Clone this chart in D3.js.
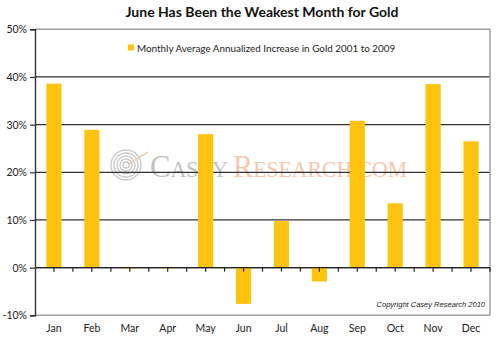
<!DOCTYPE html>
<html><head><meta charset="utf-8">
<script src="https://cdn.jsdelivr.net/npm/d3@7"></script>
<style>body{margin:0;background:#fff}svg{display:block}</style>
</head><body>
<script>
const months = ["Jan","Feb","Mar","Apr","May","Jun","Jul","Aug","Sep","Oct","Nov","Dec"];
const values = [38.6, 28.9, -0.2, -0.1, 28.0, -7.6, 9.8, -2.9, 30.8, 13.5, 38.5, 26.5];
const yTicks = [-10, 0, 10, 20, 30, 40, 50];
const title = "June Has Been the Weakest Month for Gold";
const seriesName = "Monthly Average Annualized Increase in Gold 2001 to 2009";

const W = 500, H = 338;
const m = {l:35, r:10, t:29.3, b:22.7};
const FONT = "Lato, 'Open Sans', sans-serif";
const svg = d3.select("body").append("svg").attr("width", W).attr("height", H);

const x = d3.scaleBand().domain(months).range([m.l, W - m.r]).paddingInner(0.6).paddingOuter(0.3);
const xb = d3.scaleBand().domain(months).range([m.l, W - m.r]);
const y = d3.scaleLinear().domain([-10, 50]).range([H - m.b, m.t]);

// watermark
const wm = svg.append("g").attr("opacity", 0.5);
[3, 6, 9, 12, 15].forEach(r => wm.append("circle").attr("cx", 126).attr("cy", 165).attr("r", r)
  .attr("fill", "none").attr("stroke", "#999").attr("stroke-width", 1.4));
wm.append("line").attr("x1", 129).attr("y1", 164).attr("x2", 148).attr("y2", 152).attr("stroke", "#f0a070").attr("stroke-width", 1.6);
const w1 = wm.append("text").attr("x", 150).attr("y", 177).attr("font-family", "Liberation Serif, serif").attr("font-size", 32)
  .attr("fill", "#888").attr("textLength", 78).attr("lengthAdjust", "spacingAndGlyphs");
w1.append("tspan").text("C");
w1.append("tspan").attr("font-size", 23).text("ASEY");
const w2 = wm.append("text").attr("x", 233).attr("y", 177).attr("font-family", "Liberation Serif, serif").attr("font-size", 32)
  .attr("fill", "#f29060").attr("textLength", 174).attr("lengthAdjust", "spacingAndGlyphs");
w2.append("tspan").text("R");
w2.append("tspan").attr("font-size", 23).text("ESEARCH.COM");

// gridlines
svg.append("g").selectAll("line").data(yTicks).join("line")
  .attr("x1", m.l).attr("x2", W - m.r)
  .attr("y1", d => y(d)).attr("y2", d => y(d))
  .attr("stroke", d => (d === 50 || d === -10) ? "#a0a0a0" : "#333")
  .attr("stroke-width", d => (d === 50 || d === -10) ? 1.5 : 1.3);
// right border
svg.append("line").attr("x1", W - m.r).attr("x2", W - m.r).attr("y1", y(50)).attr("y2", y(-10))
  .attr("stroke", "#a0a0a0").attr("stroke-width", 1.5);

// bars
svg.append("g").selectAll("rect").data(months.map((mo, i) => ({mo, v: values[i]}))).join("rect")
  .attr("x", d => x(d.mo)).attr("width", x.bandwidth())
  .attr("y", d => y(Math.max(0, d.v))).attr("height", d => Math.max(0.8, Math.abs(y(d.v) - y(0))))
  .attr("fill", "#FFC20E");

// zero axis with ticks
const xTickPos = [];
months.forEach(mo => { xTickPos.push(xb(mo) + xb.bandwidth()/2); xTickPos.push(xb(mo) + xb.bandwidth()); });
svg.append("line").attr("x1", m.l).attr("x2", W - m.r).attr("y1", y(0)).attr("y2", y(0)).attr("stroke", "#222").attr("stroke-width", 1.4);
svg.append("g").selectAll("line").data(xTickPos).join("line")
  .attr("x1", d => d).attr("x2", d => d).attr("y1", y(0)).attr("y2", y(0) + 4)
  .attr("stroke", "#222").attr("stroke-width", 1.2);

// y axis
const yAxis = d3.axisLeft(y).tickValues(yTicks).tickFormat(d => d + "%").tickSize(5).tickPadding(3);
const ga = svg.append("g").attr("transform", `translate(${m.l},0)`).call(yAxis);
ga.select(".domain").attr("stroke", "#333").attr("stroke-width", 1.4);
ga.selectAll(".tick line").attr("stroke", "#333").attr("stroke-width", 1.2);
ga.selectAll("text").attr("font-family", FONT).attr("font-size", 10.5).attr("fill", "#222");

// x labels
svg.append("g").selectAll("text").data(months).join("text")
  .attr("x", d => xb(d) + xb.bandwidth()/2).attr("y", 332)
  .attr("text-anchor", "middle").attr("font-family", FONT).attr("font-size", 10.5).attr("fill", "#222")
  .text(d => d);

// title
svg.append("text").attr("x", 262).attr("y", 17).attr("text-anchor", "middle")
  .attr("font-family", FONT).attr("font-weight", "bold").attr("font-size", 14).attr("fill", "#111")
  .text(title);

// legend
svg.append("rect").attr("x", 128).attr("y", 44.5).attr("width", 6).attr("height", 6).attr("fill", "#FFC20E");
svg.append("text").attr("x", 137).attr("y", 51.5).attr("font-family", FONT).attr("font-size", 9.9).attr("fill", "#222")
  .text(seriesName);

// copyright
svg.append("text").attr("x", 485).attr("y", 307).attr("text-anchor", "end")
  .attr("font-family", "Liberation Sans, Arial, sans-serif").attr("font-style", "italic").attr("font-size", 7.5).attr("fill", "#222")
  .text("Copyright Casey Research 2010");
</script>
</body></html>
